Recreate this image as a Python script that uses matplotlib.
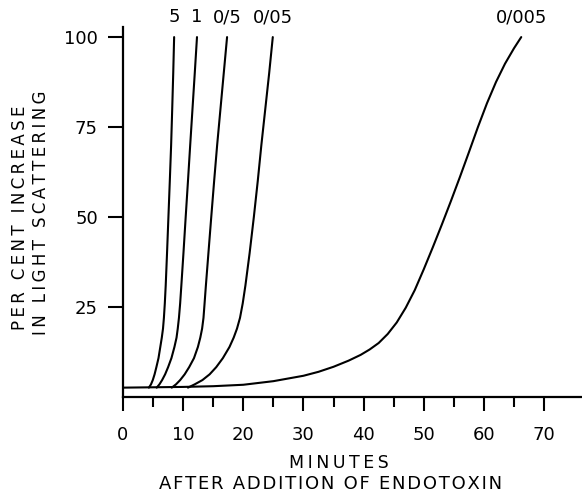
import matplotlib
matplotlib.use("Agg")
import matplotlib.pyplot as plt

# curves: minutes vs per cent increase
labels = ["5", "1", "0/5", "0/05", "0/005"]

# the four fast curves share the same y readings
pct_fast = [2.6, 3.5, 4.7, 6.3, 8.3, 10.8, 13.9, 16.5, 19, 22, 26, 31, 40, 50, 60, 70, 80, 90, 100]

min_5 = [4.3, 4.65, 4.95, 5.25, 5.55, 5.9, 6.2, 6.45, 6.65, 6.8, 6.95, 7.1, 7.32, 7.55, 7.78, 8.0, 8.18, 8.35, 8.5]
min_1 = [5.6, 6.05, 6.5, 7.0, 7.5, 8.05, 8.55, 8.9, 9.1, 9.3, 9.5, 9.7, 10.05, 10.42, 10.8, 11.17, 11.55, 11.93, 12.3]
min_05 = [8.1, 8.8, 9.5, 10.25, 11.0, 11.8, 12.45, 12.85, 13.15, 13.38, 13.56, 13.78, 14.2, 14.67, 15.15, 15.65, 16.2, 16.75, 17.3]
min_005 = [10.8, 11.9, 13.2, 14.4, 15.5, 16.6, 17.7, 18.4, 18.95, 19.45, 19.9, 20.35, 21.05, 21.75, 22.4, 23.0, 23.65, 24.3, 24.9]

min_0005 = [0, 10, 15, 20, 25, 30, 32.5, 35, 37.5, 39.5, 41, 42.5, 44, 45.5, 47, 48.5, 50, 51.5,
            53, 54.5, 56, 57.5, 59, 60.5, 62, 63.5, 65, 66.2]
pct_0005 = [2.6, 2.8, 3.0, 3.4, 4.4, 5.9, 7.0, 8.4, 10.1, 11.7, 13.2, 15.0, 17.5, 20.7, 24.8, 29.7, 35.5, 41.6,
            47.9, 54.4, 61.1, 68.0, 75.0, 81.6, 87.5, 92.6, 96.9, 100]

curves = [(min_5, pct_fast), (min_1, pct_fast), (min_05, pct_fast), (min_005, pct_fast), (min_0005, pct_0005)]

x_major = [0, 10, 20, 30, 40, 50, 60, 70]
x_minor = [5, 15, 25, 35, 45, 55, 65]
y_major = [25, 50, 75, 100]

W, H = 582, 496
fig = plt.figure(figsize=(W / 100, H / 100), dpi=100)
ax = fig.add_axes([123 / W, 99 / H, 1 - 123 / W, 370 / H])

for xs, ys in curves:
    ax.plot(xs, ys, color="black", lw=1.5, solid_capstyle="round", solid_joinstyle="round")

ax.set_xlim(0, 76.3)
ax.set_ylim(0, 102.8)

for s in ["top", "right"]:
    ax.spines[s].set_visible(False)
for s in ["left", "bottom"]:
    ax.spines[s].set_linewidth(1.6)

ax.set_xticks(x_major)
ax.set_xticks(x_minor, minor=True)
ax.set_yticks(y_major)
ax.tick_params(axis="x", which="major", length=10, width=1.5, pad=11, labelsize=13)
ax.tick_params(axis="x", which="minor", length=7.5, width=1.5)
ax.tick_params(axis="y", length=11, width=1.5, pad=7, labelsize=13)

# curve labels above the tops of the lines
for lab, (xs, ys) in zip(labels, curves):
    ax.text(xs[-1], 103, lab, ha="center", va="bottom", fontsize=13, clip_on=False)

ts = "\u2009"
hs = "\u200a"
def spaced(s):
    return ts.join(s)

def spaced_words(s):
    return (hs + " " + hs).join(hs.join(w) for w in s.split(" "))

fig.text(20 / W, 1 - 218 / H, spaced("PER CENT INCREASE"), rotation=90,
         ha="center", va="center", fontsize=12)
fig.text(41 / W, 1 - 213 / H, spaced("IN LIGHT SCATTERING"), rotation=90,
         ha="center", va="center", fontsize=12)
fig.text(339 / W, 1 - 463 / H, spaced("MINUTES"), ha="center", va="center", fontsize=12.5)
fig.text(331 / W, 1 - 484 / H, spaced_words("AFTER ADDITION OF ENDOTOXIN"),
         ha="center", va="center", fontsize=13)

fig.savefig("out.png", dpi=100)
